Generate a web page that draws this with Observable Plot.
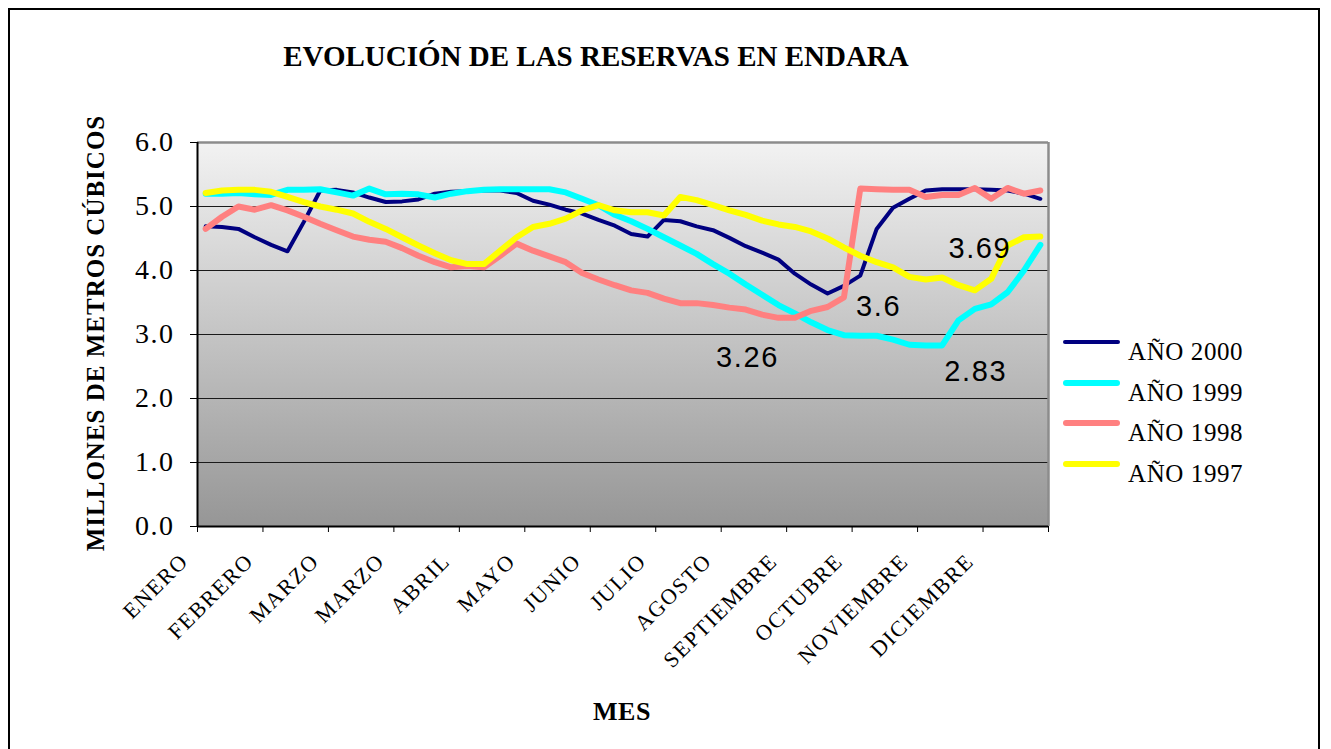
<!DOCTYPE html>
<html>
<head>
<meta charset="utf-8">
<script src="https://cdn.jsdelivr.net/npm/d3@7"></script>
<script src="https://cdn.jsdelivr.net/npm/@observablehq/plot@0.6"></script>
<style>
  html, body { margin: 0; padding: 0; background: #fff; }
  body { width: 1331px; height: 749px; overflow: hidden; position: relative; font-family: "Liberation Serif", "Times New Roman", serif; }
  #border { position: absolute; left: 8px; top: 8px; width: 1312px; height: 800px; border: 2px solid #000; box-sizing: border-box; }
  #chart { position: absolute; left: 0; top: 0; }
  .title { position: absolute; left: 596px; top: 42px; transform: translateX(-50%); font-weight: bold; font-size: 29px; line-height: 29px; letter-spacing: 0px; white-space: nowrap; color: #000; }
  .ylab { position: absolute; left: 95px; top: 333px; transform: translate(-50%, -50%) rotate(-90deg); font-weight: bold; font-size: 25px; line-height: 25px; letter-spacing: 1px; white-space: nowrap; }
  .xlab { position: absolute; left: 622px; top: 699px; transform: translateX(-50%); font-weight: bold; font-size: 26px; line-height: 26px; letter-spacing: 0.5px; white-space: nowrap; }
  .legend { position: absolute; left: 1062px; top: 322px; }
  .item { position: relative; height: 40.5px; }
  .sw { position: absolute; left: 1px; width: 57px; border-radius: 4px; }
  .lt { position: absolute; left: 66px; top: 17px; font-size: 25px; line-height: 25px; letter-spacing: 0.6px; white-space: nowrap; }
</style>
</head>
<body>
<div id="border"></div>
<div id="chart"></div>
<div class="title">EVOLUCIÓN DE LAS RESERVAS EN ENDARA</div>
<div class="ylab">MILLONES DE METROS CÚBICOS</div>
<div class="xlab">MES</div>
<div class="legend" id="legend"></div>
<script>
// ---- Data (weekly values, 52 weeks) ----
const meses = ["ENERO","FEBRERO","MARZO","MARZO","ABRIL","MAYO","JUNIO","JULIO","AGOSTO","SEPTIEMBRE","OCTUBRE","NOVIEMBRE","DICIEMBRE"];
const semanasPorMes = 4;
const yTicks = [0, 1, 2, 3, 4, 5, 6];

const anio2000 = [4.69,4.68,4.65,4.52,4.40,4.30,4.76,5.25,5.26,5.22,5.14,5.07,5.08,5.11,5.20,5.23,5.24,5.25,5.25,5.21,5.09,5.03,4.95,4.89,4.79,4.70,4.57,4.53,4.79,4.77,4.69,4.63,4.51,4.38,4.28,4.17,3.95,3.78,3.64,3.76,3.92,4.65,4.98,5.12,5.25,5.27,5.27,5.27,5.26,5.25,5.20,5.12];
const anio1999 = [5.20,5.20,5.21,5.19,5.18,5.26,5.26,5.27,5.22,5.17,5.28,5.19,5.20,5.19,5.14,5.20,5.24,5.26,5.27,5.27,5.27,5.27,5.22,5.12,5.02,4.87,4.77,4.65,4.52,4.39,4.26,4.10,3.95,3.78,3.62,3.46,3.33,3.19,3.07,2.99,2.98,2.98,2.92,2.84,2.83,2.83,3.22,3.40,3.47,3.66,4.00,4.40];
const anio1998 = [4.65,4.84,5.00,4.95,5.02,4.94,4.84,4.73,4.63,4.53,4.48,4.45,4.35,4.23,4.13,4.05,4.07,4.05,4.23,4.42,4.31,4.22,4.13,3.96,3.86,3.77,3.69,3.65,3.56,3.49,3.49,3.46,3.42,3.39,3.31,3.26,3.26,3.37,3.43,3.58,5.28,5.27,5.26,5.26,5.15,5.18,5.18,5.29,5.12,5.29,5.20,5.25];
const anio1997 = [5.21,5.25,5.26,5.26,5.23,5.15,5.07,5.00,4.95,4.89,4.76,4.65,4.52,4.39,4.27,4.16,4.10,4.10,4.31,4.52,4.68,4.73,4.81,4.94,5.02,4.94,4.91,4.91,4.86,5.15,5.10,5.02,4.94,4.87,4.78,4.72,4.68,4.61,4.50,4.36,4.23,4.13,4.05,3.90,3.86,3.89,3.77,3.69,3.87,4.39,4.52,4.53];

const seriesNombres = ["AÑO 2000", "AÑO 1999", "AÑO 1998", "AÑO 1997"];
const seriesValores = [anio2000, anio1999, anio1998, anio1997];
const seriesColores = ["#000080", "#00ffff", "#ff8080", "#ffff00"];
const seriesGrosor = [4, 6, 6, 6];

// data labels: series index, week index, text
const etiquetas = [
  {s: 3, i: 47, text: "3.69", dx: 5, dy: -42},
  {s: 0, i: 38, text: "3.6", dx: 51, dy: 13},
  {s: 2, i: 35, text: "3.26", dx: -31, dy: 40},
  {s: 1, i: 44, text: "2.83", dx: 50, dy: 26}
];

// ---- Build marks ----
const lineMarks = seriesValores.map((vals, k) =>
  Plot.line(vals.map((v, i) => ({i, v})), {
    x: "i", y: "v", stroke: seriesColores[k], strokeWidth: seriesGrosor[k],
    strokeLinejoin: "round", strokeLinecap: "round"
  })
);
const limites = d3.range(meses.length + 1).map(k => k * semanasPorMes - 0.5);
const labelMarks = etiquetas.map(e =>
  Plot.text([e], {
    x: d => d.i, y: d => seriesValores[d.s][d.i], text: "text",
    dx: e.dx, dy: e.dy, fontSize: 29, fontFamily: "'Liberation Sans', Arial, sans-serif", fill: "#000"
  })
);

const chart = Plot.plot({
  width: 1331, height: 749,
  marginLeft: 197, marginRight: 283, marginTop: 142, marginBottom: 223,
  x: {domain: [-0.5, meses.length * semanasPorMes - 0.5], axis: null, label: null},
  y: {domain: [0, 6], axis: null, label: null},
  style: {background: "transparent", fontFamily: "'Liberation Serif', 'Times New Roman', serif", color: "#000", overflow: "visible"},
  marks: [
    Plot.frame({fill: "url(#bgGrad)", stroke: null}),
    Plot.gridY(yTicks.filter(t => t > 0 && t < 6), {stroke: "#1a1a1a", strokeOpacity: 1, strokeWidth: 1}),
    Plot.ruleY([6], {stroke: "#8c8c8c", strokeWidth: 2.5}),
    Plot.ruleX([limites[limites.length - 1]], {stroke: "#8c8c8c", strokeWidth: 2.5}),
    Plot.axisY(yTicks, {tickFormat: d3.format(".1f"), tickSize: 7, tickPadding: 16, fontSize: 28, stroke: "#000", label: null}),
    Plot.axisX(limites, {tickFormat: () => "", tickSize: 6, stroke: "#000", label: null}),
    Plot.ruleX([limites[0]], {stroke: "#000", strokeWidth: 2}),
    Plot.ruleY([0], {stroke: "#000", strokeWidth: 2}),
    Plot.text(meses, {
      x: (d, k) => limites[k], frameAnchor: "bottom", text: d => d,
      rotate: -45, textAnchor: "end", dx: -8, dy: 36, fontSize: 22, fill: "#000"
    }),
    ...lineMarks,
    ...labelMarks
  ]
});

// gradient background of plot area
const svg = d3.select(chart);
const defs = svg.insert("defs", ":first-child");
const grad = defs.append("linearGradient").attr("id", "bgGrad").attr("x1", 0).attr("y1", 0).attr("x2", 0).attr("y2", 1);
grad.append("stop").attr("offset", "0%").attr("stop-color", "#f2f2f2");
grad.append("stop").attr("offset", "100%").attr("stop-color", "#969696");
// month labels letter spacing
svg.selectAll("g[aria-label='text'] text").style("letter-spacing", "1.6px");
svg.selectAll("g[aria-label='y-axis tick label'] text").style("letter-spacing", "1.5px");
document.getElementById("chart").appendChild(chart);

// legend
const legend = d3.select("#legend");
seriesNombres.forEach((n, k) => {
  const it = legend.append("div").attr("class", "item");
  it.append("div").attr("class", "sw")
    .style("top", (20 - seriesGrosor[k] / 2) + "px")
    .style("height", seriesGrosor[k] + "px")
    .style("background", seriesColores[k]);
  it.append("div").attr("class", "lt").text(n);
});
</script>
</body>
</html>
